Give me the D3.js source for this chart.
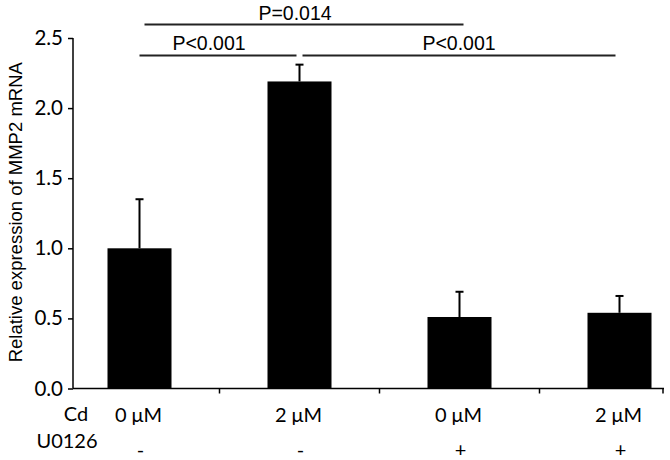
<!DOCTYPE html>
<html>
<head>
<meta charset="utf-8">
<script src="https://cdn.jsdelivr.net/npm/d3@7"></script>
<style>
  body { margin: 0; background: #fff; }
  svg { display: block; }
</style>
</head>
<body>
<svg width="670" height="460"></svg>
<script>
// data
var groups = ["g1", "g2", "g3", "g4"];
var cdLabels = ["0 \u03BCM", "2 \u03BCM", "0 \u03BCM", "2 \u03BCM"];
var u0126Labels = ["-", "-", "+", "+"];
var means = [1.00, 2.19, 0.51, 0.54];
var errors = [0.35, 0.12, 0.18, 0.12];
var yTicks = [0, 0.5, 1.0, 1.5, 2.0, 2.5];

// significance brackets: [from group, to group, text, level]
var comparisons = [
	[0, 1, "P<0.001", 0],
	[1, 3, "P<0.001", 0],
	[0, 2, "P=0.014", 1]
];

var svg = d3.select("svg");
var tickFont = "Lato, 'Open Sans', sans-serif";
var arialFont = "'Liberation Sans', Arial, sans-serif";

var axisLeft = 73, axisRight = 664;

// x scale
var x = d3.scaleBand()
	.domain(groups)
	.range([59.5, 699.5])
	.paddingInner(0.6)
	.paddingOuter(0.3);

// y scale
var y = d3.scaleLinear()
	.domain([0, 2.5])
	.range([388.5, 38]);

var cx = function(i) { return x(groups[i]) + x.bandwidth() / 2; };

// bars
svg.append("g")
	.selectAll("rect")
	.data(means)
	.enter().append("rect")
	.attr("x", function(d, i) { return x(groups[i]); })
	.attr("y", function(d) { return y(d); })
	.attr("width", x.bandwidth())
	.attr("height", function(d) { return y(0) - y(d); })
	.attr("fill", "#000");

// error bars (upper only)
var err = svg.append("g")
	.attr("stroke", "#000")
	.attr("stroke-width", 2);

err.selectAll("line.v")
	.data(means)
	.enter().append("line")
	.attr("class", "v")
	.attr("x1", function(d, i) { return cx(i); })
	.attr("x2", function(d, i) { return cx(i); })
	.attr("y1", function(d) { return y(d); })
	.attr("y2", function(d, i) { return y(d + errors[i]); });

err.selectAll("line.cap")
	.data(means)
	.enter().append("line")
	.attr("class", "cap")
	.attr("x1", function(d, i) { return cx(i) - 4; })
	.attr("x2", function(d, i) { return cx(i) + 4; })
	.attr("y1", function(d, i) { return y(d + errors[i]); })
	.attr("y2", function(d, i) { return y(d + errors[i]); });

// y axis
var yAxis = svg.append("g")
	.attr("transform", "translate(" + axisLeft + ",0)")
	.call(d3.axisLeft(y).tickValues(yTicks).tickFormat(d3.format(".1f")).tickSize(5).tickPadding(5));

yAxis.select(".domain").attr("stroke", "#000").attr("stroke-width", 1.5).attr("d", "M0," + y(2.5) + "V" + y(0));
yAxis.selectAll(".tick line").attr("stroke", "#000").attr("stroke-width", 1.5);
yAxis.selectAll(".tick text")
	.attr("font-family", tickFont)
	.attr("font-size", 20.5)
	.attr("fill", "#000");

// x axis line with ticks between groups
var xAxis = svg.append("g");
xAxis.append("line")
	.attr("x1", axisLeft)
	.attr("x2", axisRight)
	.attr("y1", y(0))
	.attr("y2", y(0))
	.attr("stroke", "#000")
	.attr("stroke-width", 1.5);

var tickXs = groups.slice(1).map(function(g) { return x(g) - x.step() * x.paddingOuter(); });
tickXs.push(axisRight - 1);
xAxis.selectAll("line.tick")
	.data(tickXs)
	.enter().append("line")
	.attr("class", "tick")
	.attr("x1", function(d) { return d; })
	.attr("x2", function(d) { return d; })
	.attr("y1", y(0))
	.attr("y2", y(0) + 5)
	.attr("stroke", "#000")
	.attr("stroke-width", 1.5);

// category rows
var rows = svg.append("g")
	.attr("font-family", tickFont)
	.attr("font-size", 20)
	.attr("fill", "#000")
	.attr("text-anchor", "middle");

rows.append("text").attr("x", 76).attr("y", 421).text("Cd");
rows.append("text").attr("x", 67).attr("y", 448).text("U0126");

rows.selectAll("text.cd")
	.data(cdLabels)
	.enter().append("text")
	.attr("class", "cd")
	.attr("x", function(d, i) { return cx(i) - 1; })
	.attr("y", 422)
	.text(function(d) { return d; });

rows.selectAll("text.u")
	.data(u0126Labels)
	.enter().append("text")
	.attr("class", "u")
	.attr("x", function(d, i) { return cx(i) + 1; })
	.attr("y", 457)
	.text(function(d) { return d; });

// y axis title
svg.append("text")
	.attr("transform", "translate(22," + ((y(0) + y(2.5)) / 2 - 1) + ") rotate(-90)")
	.attr("text-anchor", "middle")
	.attr("font-family", arialFont)
	.attr("font-size", 18.5)
	.attr("fill", "#000")
	.text("Relative expression of MMP2 mRNA");

// significance brackets
var levelY = [55.5, 24.5];
var sig = svg.append("g");
comparisons.forEach(function(c) {
	var x1 = cx(c[0]) + (c[0] === 1 ? 3 : 0) + (c[3] === 1 ? 5 : 0);
	var x2 = cx(c[1]) - (c[1] === 1 ? 3 : 0) - (c[1] === 3 ? 4 : 0) + (c[3] === 1 ? 4 : 0);
	sig.append("line")
		.attr("x1", x1)
		.attr("x2", x2)
		.attr("y1", levelY[c[3]])
		.attr("y2", levelY[c[3]])
		.attr("stroke", "#222")
		.attr("stroke-width", 2);
	sig.append("text")
		.attr("x", (x1 + x2) / 2 - (c[1] === 3 ? 0 : 9))
		.attr("y", levelY[c[3]] - (c[3] === 1 ? 5 : 5.5))
		.attr("text-anchor", "middle")
		.attr("font-family", arialFont)
		.attr("font-size", 19.5)
		.attr("fill", "#000")
		.text(c[2]);
});
</script>
</body>
</html>
